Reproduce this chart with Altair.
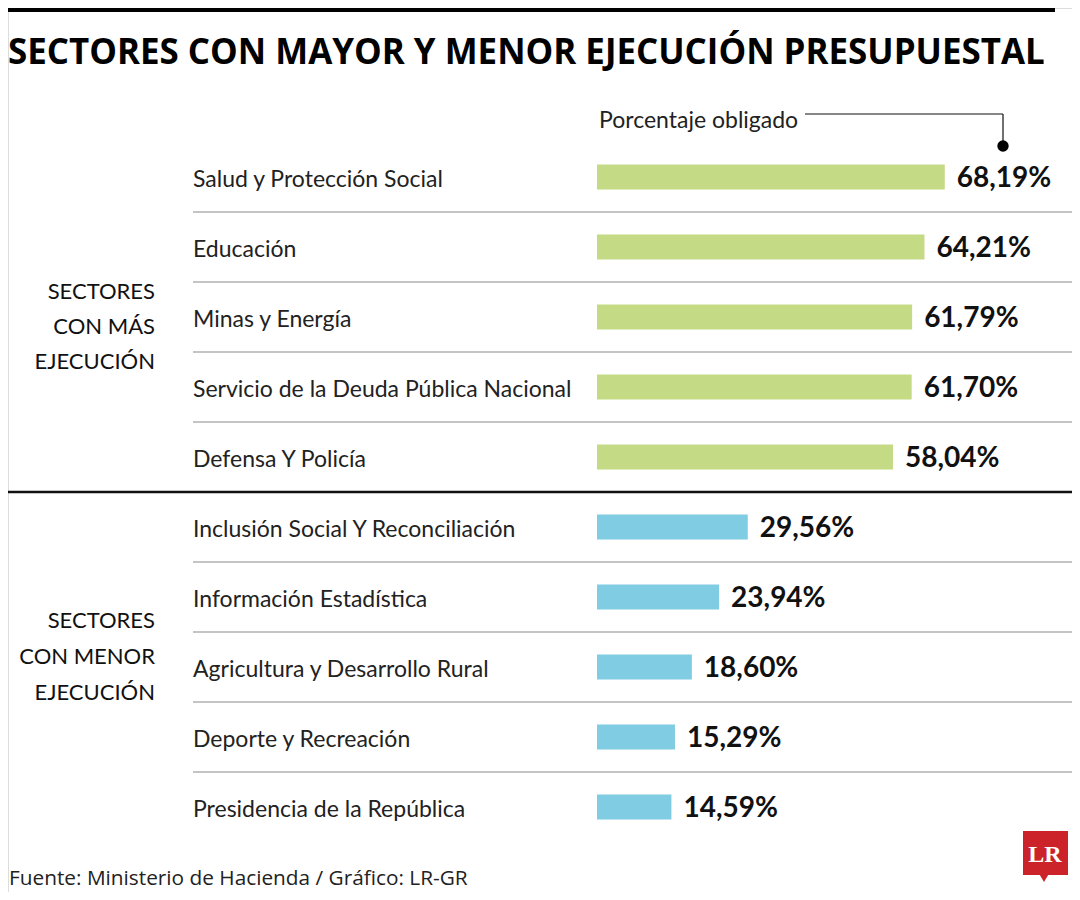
import altair as alt
import pandas as pd

sectors = [
    "Salud y Protección Social",
    "Educación",
    "Minas y Energía",
    "Servicio de la Deuda Pública Nacional",
    "Defensa Y Policía",
    "Inclusión Social Y Reconciliación",
    "Información Estadística",
    "Agricultura y Desarrollo Rural",
    "Deporte y Recreación",
    "Presidencia de la República",
]
values = [68.19, 64.21, 61.79, 61.70, 58.04, 29.56, 23.94, 18.60, 15.29, 14.59]
groups = ["mas"] * 5 + ["menor"] * 5

TITLE = "SECTORES CON MAYOR Y MENOR EJECUCIÓN PRESUPUESTAL"
SUB = "Porcentaje obligado"
SOURCE = "Fuente: Ministerio de Hacienda / Gráfico: LR-GR"
GROUP1 = ["SECTORES", "CON MÁS", "EJECUCIÓN"]
GROUP2 = ["SECTORES", "CON MENOR", "EJECUCIÓN"]

COND = "Lato"

df = pd.DataFrame({
    "sector": sectors,
    "value": values,
    "group": groups,
    "label": [f"{v:.2f}".replace(".", ",") + "%" for v in values],
    "idx": list(range(len(sectors))),
})

W, H = 1064, 884
xs = alt.Scale(domain=[0, 100], range=[589, 1099])
ys = alt.Scale(domain=sectors, range=[134, 834], paddingInner=0, paddingOuter=0)

base = alt.Chart(df)

bars = base.mark_bar(size=25).encode(
    x=alt.X("value:Q", scale=xs, axis=None),
    x2=alt.X2(datum=0),
    y=alt.Y("sector:N", scale=ys, axis=None),
    color=alt.Color("group:N", scale=alt.Scale(domain=["mas", "menor"], range=["#c5da84", "#80cce3"]), legend=None),
)

vals = base.mark_text(align="left", baseline="middle", dx=12, dy=2, font=COND,
                      fontWeight="bold", fontSize=28, color="#111").encode(
    x=alt.X("value:Q", scale=xs, axis=None),
    y=alt.Y("sector:N", scale=ys, axis=None),
    text="label:N",
)

names = base.mark_text(align="left", baseline="middle", dy=3, font=COND,
                       fontSize=23, color="#222").encode(
    x=alt.value(185),
    y=alt.Y("sector:N", scale=ys, axis=None),
    text="sector:N",
)

thin = base.transform_filter("datum.idx != 4 && datum.idx != 9").mark_rule(
    color="#b0b0b0", strokeWidth=1.5).encode(
    x=alt.value(185), x2=alt.value(1067),
    y=alt.Y("sector:N", scale=ys, axis=None, bandPosition=1),
)

thick = base.transform_filter("datum.idx == 4").mark_rule(
    color="#111", strokeWidth=2.5).encode(
    x=alt.value(0), x2=alt.value(1067),
    y=alt.Y("sector:N", scale=ys, axis=None, bandPosition=1),
)

one = alt.Data(values=[{"a": 1}])

def txt(text, x, y, **kw):
    return alt.Chart(one).mark_text(**kw).encode(
        x=alt.value(x), y=alt.value(y), text=alt.value(text))

topbar = alt.Chart(one).mark_rule(color="#000", strokeWidth=8).encode(
    x=alt.value(0), x2=alt.value(1047), y=alt.value(0))

title = txt(TITLE, 0, 56, align="left", baseline="alphabetic", font="Open Sans",
            fontWeight="bold", fontSize=34.9, color="#000")

sub = txt(SUB, 591, 120, align="left", baseline="alphabetic", font=COND,
          fontSize=23, color="#222")

lead_h = alt.Chart(one).mark_rule(color="#111", strokeWidth=1.2).encode(
    x=alt.value(797), x2=alt.value(995), y=alt.value(106))
lead_v = alt.Chart(one).mark_rule(color="#111", strokeWidth=1.2).encode(
    x=alt.value(995), y=alt.value(106), y2=alt.value(138))
dot = alt.Chart(one).mark_point(filled=True, shape="circle", size=130, color="#000", opacity=1).encode(
    x=alt.value(995), y=alt.value(138))

g1 = [txt(t, 147, 284 + 35 * i, align="right", baseline="middle", font=COND,
          fontSize=22, color="#111") for i, t in enumerate(GROUP1)]
g2 = [txt(t, 147, 613 + 36 * i, align="right", baseline="middle", font=COND,
          fontSize=22, color="#111") for i, t in enumerate(GROUP2)]

source = txt(SOURCE, 1, 871, align="left", baseline="middle", font="Open Sans",
             fontSize=20.8, color="#222")

logo_box = alt.Chart(one).mark_rect(color="#cc2229").encode(
    x=alt.value(1015), x2=alt.value(1060), y=alt.value(823), y2=alt.value(867))
logo_tail = alt.Chart(one).mark_point(filled=True, shape="triangle-down", size=90,
                                      color="#cc2229", opacity=1).encode(
    x=alt.value(1036), y=alt.value(870))
logo_txt = txt("LR", 1037, 847, align="center", baseline="middle",
               font="Liberation Serif", fontWeight="bold", fontSize=24, color="#fff")

chart = alt.layer(
    topbar, title, sub, lead_h, lead_v, dot,
    thin, thick, bars, vals, names,
    *g1, *g2, source, logo_box, logo_tail, logo_txt,
).properties(
    width=W, height=H,
    autosize=alt.AutoSizeParams(type="none"),
    padding=0,
).configure_view(strokeWidth=0, stroke="transparent").configure(background="#ffffff")

chart.save("out.html", embed_options={"renderer": "svg", "actions": False})
